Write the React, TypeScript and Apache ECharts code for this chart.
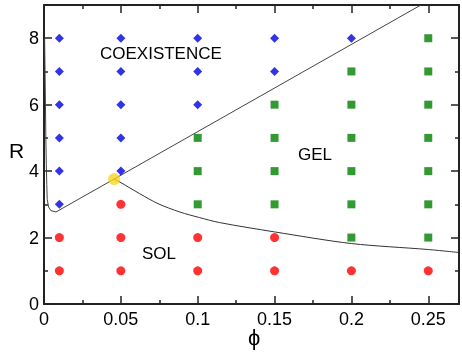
import React, { useEffect, useRef } from "react";
import * as echarts from "echarts";

// Phase-diagram data (x = phi, y = R)
const coexistencePoints: number[][] = [
  [0.01, 3], [0.01, 4], [0.01, 5], [0.01, 6], [0.01, 7], [0.01, 8],
  [0.05, 4], [0.05, 5], [0.05, 6], [0.05, 7], [0.05, 8],
  [0.1, 6], [0.1, 7], [0.1, 8],
  [0.15, 7], [0.15, 8],
  [0.2, 8],
];
const gelPoints: number[][] = [
  [0.1, 3], [0.1, 4], [0.1, 5],
  [0.15, 3], [0.15, 4], [0.15, 5], [0.15, 6],
  [0.2, 2], [0.2, 3], [0.2, 4], [0.2, 5], [0.2, 6], [0.2, 7],
  [0.25, 2], [0.25, 3], [0.25, 4], [0.25, 5], [0.25, 6], [0.25, 7], [0.25, 8],
];
const solPoints: number[][] = [
  [0.01, 1], [0.01, 2],
  [0.05, 1], [0.05, 2], [0.05, 3],
  [0.1, 1], [0.1, 2],
  [0.15, 1], [0.15, 2],
  [0.2, 1],
  [0.25, 1],
];
const triplePoint: number[][] = [[0.0456, 3.76]];
const coexistenceBoundary: number[][] = [
  [0.0004, 8.0], [0.0008, 6.6], [0.0012, 5.0], [0.0015, 4.2], [0.0018, 3.6],
  [0.0021, 3.15], [0.003, 2.92], [0.0045, 2.81], [0.0078, 2.77],
  [0.0456, 3.76], [0.2452, 9.0],
];
const solGelBoundary: number[][] = [
  [0.0456, 3.76], [0.0494, 3.67], [0.0623, 3.32], [0.0742, 3.02],
  [0.0883, 2.77], [0.1013, 2.6], [0.1143, 2.45], [0.15, 2.17],
  [0.2, 1.82], [0.25, 1.64], [0.27, 1.55],
];
const xTicks = [0, 0.05, 0.1, 0.15, 0.2, 0.25];
const yTicks = [0, 2, 4, 6, 8];
const regionLabels = ["COEXISTENCE", "GEL", "SOL"];

const FONT = "'Liberation Sans', Arial, Helvetica, sans-serif";
const G = { left: 44, right: 3, top: 5, bottom: 50 };

export default function App() {
  const ref = useRef<HTMLDivElement>(null);
  useEffect(() => {
    if (!ref.current) return;
    const chart = echarts.init(ref.current, null, { renderer: "svg" });
    const axisLine = { show: true, onZero: false, lineStyle: { color: "#222", width: 2 } };
    const near = (v: number, arr: number[]) => arr.some((t) => Math.abs(t - v) < 1e-6);
    const xBase = {
      type: "value" as const,
      min: 0,
      max: 0.27,
      interval: 0.05,
      axisLine,
      splitLine: { show: false },
      axisTick: { show: true, inside: true, length: 8, lineStyle: { color: "#222", width: 1.5 } },
      minorTick: { show: true, splitNumber: 2, length: 4, lineStyle: { color: "#222", width: 1.5 } },
    };
    const yBase = {
      type: "value" as const,
      min: 0,
      max: 9,
      interval: 2,
      axisLine,
      splitLine: { show: false },
      axisTick: { show: true, inside: true, length: 8, lineStyle: { color: "#222", width: 1.5 } },
      minorTick: { show: true, splitNumber: 2, length: 4, lineStyle: { color: "#222", width: 1.5 } },
    };
    chart.setOption({
      animation: false,
      grid: { ...G },
      xAxis: [
        {
          ...xBase,
          position: "bottom",
          axisLabel: {
            show: true,
            margin: 6,
            fontSize: 18,
            color: "#000",
            fontFamily: FONT,
            formatter: (v: number) => (near(v, xTicks) ? String(+v.toFixed(2)) : ""),
          },
        },
        { ...xBase, position: "top", axisLabel: { show: false } },
      ],
      yAxis: [
        {
          ...yBase,
          position: "left",
          axisLabel: {
            show: true,
            margin: 5,
            fontSize: 18,
            color: "#000",
            fontFamily: FONT,
            formatter: (v: number) => (near(v, yTicks) ? String(v) : ""),
          },
        },
        { ...yBase, position: "right", axisLabel: { show: false } },
      ],
      series: [
        {
          type: "line",
          data: coexistenceBoundary,
          showSymbol: false,
          symbol: "none",
          lineStyle: { color: "#444", width: 1 },
          z: 2,
        },
        {
          type: "line",
          data: solGelBoundary,
          showSymbol: false,
          symbol: "none",
          smooth: 0.3,
          lineStyle: { color: "#333", width: 1 },
          z: 2,
        },
        {
          type: "scatter",
          data: coexistencePoints,
          symbol: "diamond",
          symbolSize: 9,
          itemStyle: { color: "#0000e0" },
          z: 3,
        },
        {
          type: "scatter",
          data: gelPoints,
          symbol: "rect",
          symbolSize: 8,
          itemStyle: { color: "#008000" },
          z: 3,
        },
        {
          type: "scatter",
          data: solPoints,
          symbol: "circle",
          symbolSize: 9,
          itemStyle: { color: "#ff0000" },
          z: 3,
        },
        {
          type: "scatter",
          data: triplePoint,
          symbol: "circle",
          symbolSize: 12,
          itemStyle: { color: "#f7d51e" },
          z: 4,
        },
      ],
      graphic: [
        {
          type: "text",
          left: 100,
          top: 45,
          style: { text: regionLabels[0], font: `17px ${FONT}`, fill: "#000" },
        },
        {
          type: "text",
          left: 298,
          top: 146,
          style: { text: regionLabels[1], font: `17px ${FONT}`, fill: "#000" },
        },
        {
          type: "text",
          left: 142,
          top: 245,
          style: { text: regionLabels[2], font: `17px ${FONT}`, fill: "#000" },
        },
        {
          type: "text",
          left: 9,
          top: 140,
          style: { text: "R", font: `21px ${FONT}`, fill: "#000" },
        },
        {
          type: "text",
          left: 248,
          top: 326,
          style: { text: "ϕ", font: `22px ${FONT}`, fill: "#000" },
        },
      ],
    });
    return () => chart.dispose();
  }, []);
  return <div ref={ref} style={{ width: 462, height: 354, position: "fixed", left: 0, top: 0 }} />;
}
